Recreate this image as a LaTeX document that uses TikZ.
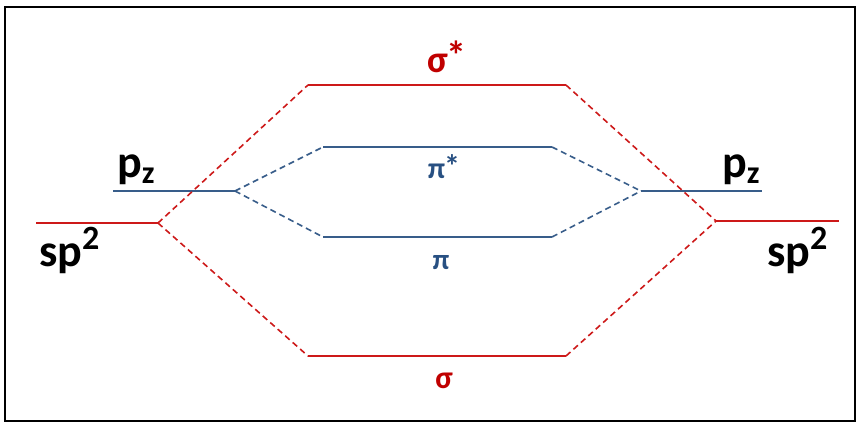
\documentclass[tikz,border=0pt]{standalone}
\usepackage{fontspec}
\setmainfont{Carlito}
\definecolor{mored}{RGB}{205,25,25}
\definecolor{molabred}{RGB}{192,0,0}
\definecolor{moblue}{RGB}{56,93,138}
\definecolor{molabblue}{RGB}{40,80,130}
\tikzset{
  redlevel/.style={draw=mored, line width=1.6pt},
  bluelevel/.style={draw=moblue, line width=1.6pt},
  redlink/.style={draw=mored, line width=1.6pt, dash pattern=on 6pt off 4pt},
  bluelink/.style={draw=moblue, line width=1.6pt, dash pattern=on 6pt off 4pt},
  biglabel/.style={inner sep=0pt, font=\bfseries\fontsize{46}{50}\selectfont, text=black},
  redlabel/.style={inner sep=0pt, text=molabred},
  bluelabel/.style={inner sep=0pt, text=molabblue},
}
\begin{document}
\begin{tikzpicture}[x=1pt,y=-1pt]
\useasboundingbox (0,0) rectangle (859,424);
\draw[line width=2pt, black] (5,7) rectangle (855,421);
% left atomic levels
\coordinate (lsA) at (36,223);  \coordinate (lsB) at (158,223);
\coordinate (lpA) at (113,191); \coordinate (lpB) at (235,191);
% right atomic levels
\coordinate (rsA) at (716,221); \coordinate (rsB) at (839,221);
\coordinate (rpA) at (641,191); \coordinate (rpB) at (762,191);
% molecular levels
\coordinate (ssA) at (308,85);  \coordinate (ssB) at (566,85);
\coordinate (psA) at (323,147); \coordinate (psB) at (552,147);
\coordinate (pA) at (323,237);  \coordinate (pB) at (552,237);
\coordinate (sA) at (308,356);  \coordinate (sB) at (566,356);
% solid levels
\draw[redlevel] (lsA) -- (lsB);
\draw[redlevel] (rsA) -- (rsB);
\draw[bluelevel] (lpA) -- (lpB);
\draw[bluelevel] (rpA) -- (rpB);
\draw[redlevel] (ssA) -- (ssB);
\draw[redlevel] (sA) -- (sB);
\draw[bluelevel] (psA) -- (psB);
\draw[bluelevel] (pA) -- (pB);
% dashed correlation lines
\draw[redlink] (lsB) -- (ssA);
\draw[redlink] (lsB) -- (sA);
\draw[redlink] (ssB) -- (rsA);
\draw[redlink] (sB) -- (rsA);
\draw[bluelink] (lpB) -- (psA);
\draw[bluelink] (lpB) -- (pA);
\draw[bluelink] (psB) -- (rpA);
\draw[bluelink] (pB) -- (rpA);
% labels
\node[biglabel, anchor=base west] (lpz) at (117,177) {p\raisebox{-6pt}{\fontsize{32}{34}\selectfont z}};
\node[biglabel, anchor=base west] (lsp) at (39,266) {sp\raisebox{17pt}{\fontsize{34}{36}\selectfont 2}};
\node[biglabel, anchor=base west] (rpz) at (722,177) {p\raisebox{-6pt}{\fontsize{32}{34}\selectfont z}};
\node[biglabel, anchor=base west] (rsp) at (767,266) {sp\raisebox{17pt}{\fontsize{34}{36}\selectfont 2}};
\node[redlabel, font=\bfseries\fontsize{38}{40}\selectfont, anchor=base] (lss) at (447,72) {σ\kern-1pt\raisebox{3pt}{\fontsize{40}{42}\selectfont *}};
\node[redlabel, font=\bfseries\fontsize{32}{34}\selectfont, anchor=base] (ls) at (444,388) {σ};
\node[bluelabel, font=\bfseries\fontsize{30}{32}\selectfont, anchor=base] (lps) at (444,178) {π\kern-1pt\raisebox{1pt}{\fontsize{32}{34}\selectfont *}};
\node[bluelabel, font=\bfseries\fontsize{29}{31}\selectfont, anchor=base] (lp) at (441,269) {π};
\end{tikzpicture}
\end{document}
